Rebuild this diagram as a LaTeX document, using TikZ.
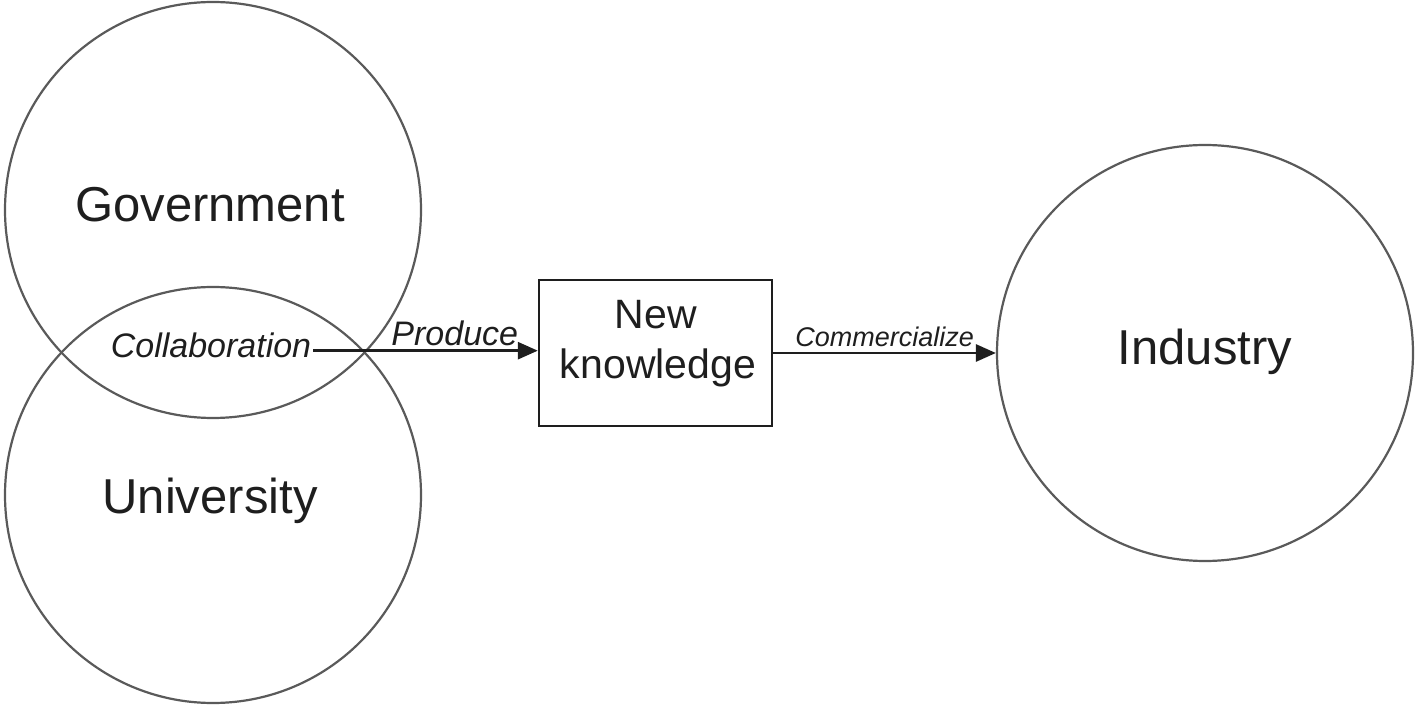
\documentclass[tikz,border=0pt]{standalone}
\usepackage{fontspec}
\setmainfont{Liberation Sans}
\usepackage{tikz}
\usetikzlibrary{arrows.meta}
\definecolor{ringgray}{HTML}{5A5A5A}
\definecolor{inkblack}{HTML}{1E1E1E}

\begin{document}
\begin{tikzpicture}[x=1pt, y=-1pt,
    sector/.style={circle, draw=ringgray, line width=2.2pt, minimum size=416pt, inner sep=0pt},
    bigword/.style={anchor=base, inner sep=0pt, text=inkblack, font=\fontsize{49}{56}\selectfont},
    flow/.style={-{Triangle[length=20pt,width=17pt]}, line width=2.8pt, draw=inkblack},
    verb/.style={text=inkblack, font=\itshape\fontsize{34}{40}\selectfont, inner sep=2pt}]
    \useasboundingbox (0,0) rectangle (1417,708);

    %% the two overlapping circles
    \node[sector] (gov) at (213,210) {};
    \node[sector] (uni) at (213,495) {};
    \node[bigword] (govtext) at (210,222) {Government};
    \node[bigword] (unitext) at (210,514) {University};
    \node[verb, anchor=base, text depth=10pt] (collab) at (211,358) {Collaboration};

    %% the box
    \node[draw=inkblack, line width=2.4pt, minimum width=233pt, minimum height=146pt] (know) at (655.5,353) {};
    \node[bigword, font=\fontsize{41}{49}\selectfont] (newtext) at (656,329) {New};
    \node[bigword, font=\fontsize{41}{49}\selectfont] (knowtext) at (658,379) {knowledge};

    %% industry
    \node[sector] (ind) at (1205,353) {};
    \node[bigword] (indtext) at (1205,365) {Industry};

    %% arrows
    \draw[flow] (collab.east) -- (collab.east -| know.west)
        node[verb, pos=0.63, above, yshift=1pt] (prod) {Produce};
    \draw[flow] (know.east) -- (ind.west)
        node[verb, midway, above, yshift=3pt, font=\itshape\fontsize{27}{32}\selectfont] (comm) {Commercialize};
\end{tikzpicture}
\end{document}
